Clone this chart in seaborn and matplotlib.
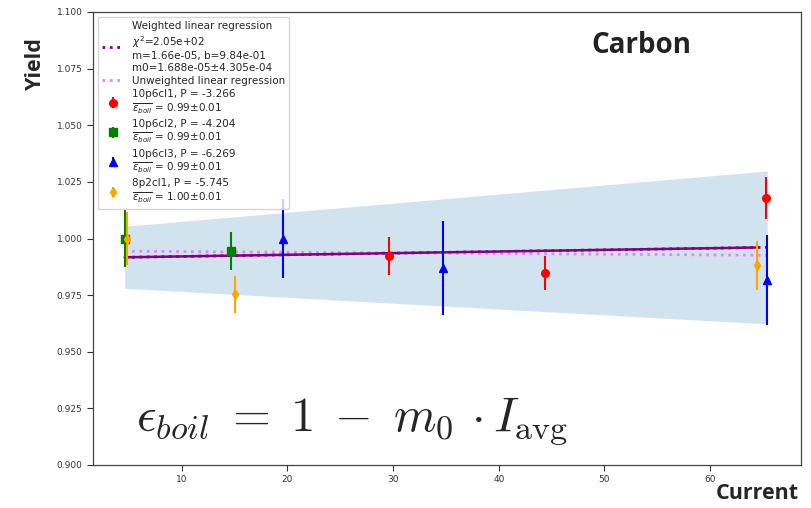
import numpy as np
import pandas as pd
import matplotlib
matplotlib.use("Agg")
import matplotlib.pyplot as plt
import seaborn as sns

# ---- data ----
red_x = [29.6, 44.4, 65.3]
red_y = [0.9922, 0.9848, 1.0180]
red_err = [0.0083, 0.0074, 0.0093]

green_x = [4.6, 14.7]
green_y = [1.0000, 0.9946]
green_err = [0.0126, 0.0083]

blue_x = [19.6, 34.7, 65.4]
blue_y = [1.0000, 0.9870, 0.9818]
blue_err = [0.0174, 0.0207, 0.0199]

orange_x = [4.8, 15.05, 64.4]
orange_y = [1.0000, 0.9753, 0.9882]
orange_err = [0.0118, 0.0081, 0.0109]

fit_x = [4.6, 65.4]
weighted_y = [0.9917, 0.9961]
unweighted_y = [0.9944, 0.9926]
band_lo = [0.9780, 0.9623]
band_hi = [1.0054, 1.0298]
solid_x = [4.6, 64.4]
solid_y = [0.9917, 0.99603]

labels = [
    "10p6cl1, P = -3.266\n$\\overline{\\epsilon_{boil}}$ = 0.99±0.01",
    "10p6cl2, P = -4.204\n$\\overline{\\epsilon_{boil}}$ = 0.99±0.01",
    "10p6cl3, P = -6.269\n$\\overline{\\epsilon_{boil}}$ = 0.99±0.01",
    "8p2cl1, P = -5.745\n$\\overline{\\epsilon_{boil}}$ = 1.00±0.01",
]
weighted_label = ("Weighted linear regression\n$\\chi^2$=2.05e+02\n"
                  "m=1.66e-05, b=9.84e-01\nm0=1.688e-05±4.305e-04")
unweighted_label = "Unweighted linear regression"

sns.set_theme(style="ticks")
plt.rcParams["font.family"] = ["DejaVu Sans"]
plt.rcParams["mathtext.fontset"] = "dejavusans"

fig = plt.figure(figsize=(8.12, 5.08), dpi=100)
ax = fig.add_axes([93 / 812, 1 - 465 / 508, 708 / 812, 453 / 508])

# band
ax.fill_between(fit_x, band_lo, band_hi, color="#1f77b4", alpha=0.2, lw=0)

# regression lines
sns.lineplot(x=fit_x, y=weighted_y, ax=ax, color="purple", linestyle=":",
             lw=2, label=weighted_label)
sns.lineplot(x=fit_x, y=unweighted_y, ax=ax, color="violet", linestyle=":",
             lw=2, label=unweighted_label)
sns.lineplot(x=solid_x, y=solid_y, ax=ax, color="purple", lw=1.8,
             label="_nolegend_")

series = [
    (red_x, red_y, red_err, "red", "o", 5.5),
    (green_x, green_y, green_err, "green", "s", 5.5),
    (blue_x, blue_y, blue_err, "blue", "^", 5.5),
    (orange_x, orange_y, orange_err, "orange", "d", 5.5),
]
for (xs, ys, es, c, m, ms), lab in zip(series, labels):
    ax.errorbar(xs, ys, yerr=es, fmt=m, color=c, ms=ms, elinewidth=1.5,
                capsize=0, label=lab)

ax.set_xlim(1.6, 68.6)
ax.set_ylim(0.9, 1.1)
ax.set_xticks([10, 20, 30, 40, 50, 60])
ax.set_yticks(np.arange(0.9, 1.1001, 0.025))
ax.yaxis.set_major_formatter(matplotlib.ticker.FormatStrFormatter("%.3f"))
ax.tick_params(labelsize=6.5, length=4, width=0.8, colors="#333333")
for s in ax.spines.values():
    s.set_color("#444444")
    s.set_linewidth(0.9)

lab_font = dict(family=["Open Sans", "DejaVu Sans"], weight="bold", size=15.5)
ax.set_xlabel("Current", **lab_font)
ax.set_ylabel("Yield", **lab_font)
ax.xaxis.set_label_coords(0.939, -0.040)
ax.yaxis.set_label_coords(-0.066, 0.887)

ax.text(0.774, 0.927, "Carbon", transform=ax.transAxes, ha="center",
        va="center", fontsize=20, fontweight="bold", color="#222222",
        family=["Open Sans", "DejaVu Sans"])

ax.text(0.366, 0.077,
        r"$\epsilon_{boil} \;=\; 1 \;-\; m_0 \,\cdot I_{\rm avg}$",
        transform=ax.transAxes, ha="center", va="baseline", fontsize=35,
        math_fontfamily="cm")

h, l = ax.get_legend_handles_labels()
leg = ax.legend(h, l, loc="upper left", fontsize=7.5, frameon=True,
                borderaxespad=0.5, labelspacing=0.3)

fig.savefig("out.png", dpi=100)
